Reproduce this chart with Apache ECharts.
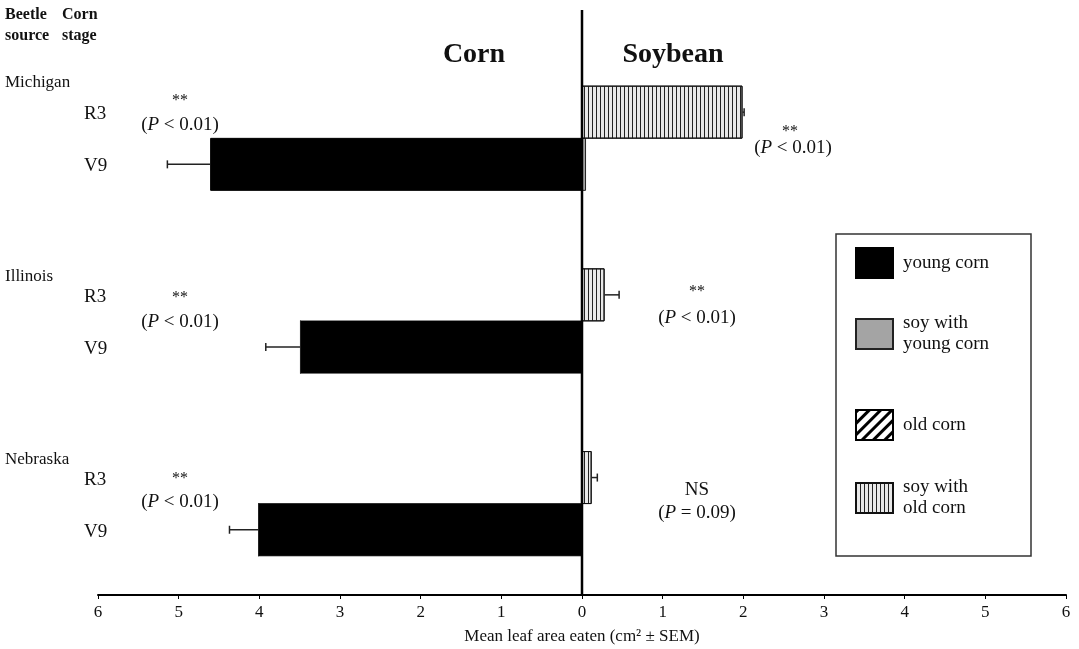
<!DOCTYPE html>
<html><head><meta charset="utf-8">
<script src="https://cdn.jsdelivr.net/npm/echarts@6/dist/echarts.min.js"></script>
<style>html,body{margin:0;padding:0;background:#fff}#c{width:1079px;height:649px}</style>
</head><body><div id="c"></div>
<script>
// ---- data ----
const sources = ['Michigan', 'Illinois', 'Nebraska'];
const stages = ['R3', 'V9'];
const youngCorn = [4.61, 3.49, 4.01];          // V9 rows, corn side
const youngCornSem = [0.53, 0.43, 0.36];
const soyWithYoungCorn = [0.05, 0, 0];          // V9 rows, soybean side
const oldCorn = [0, 0, 0];                      // R3 rows, corn side
const soyWithOldCorn = [1.99, 0.28, 0.12];      // R3 rows, soybean side
const soyWithOldCornSem = [0.02, 0.18, 0.07];
const cornSig = ['**', '**', '**'];
const cornP = ['(P < 0.01)', '(P < 0.01)', '(P < 0.01)'];
const soySig = ['**', '**', 'NS'];
const soyP = ['(P < 0.01)', '(P < 0.01)', '(P = 0.09)'];
const legendNames = ['young corn', 'soy with young corn', 'old corn', 'soy with old corn'];
const xMin = -6, xMax = 6, xStep = 1;

// ---- layout of category slots (half-row units) ----
const SLOTS = 20, GROUP = 7, OFF = {src: 0, R3: 1, V9: 3};
const cats = [];
for (let i = 0; i < SLOTS; i++) cats.push('g:' + i);
sources.forEach((s, k) => {
  cats[k * GROUP + OFF.src] = 's:' + k + ':' + s;
  stages.forEach(st => { cats[k * GROUP + OFF[st]] = 't:' + st + ':' + s; });
});
function empty() { return new Array(SLOTS).fill('-'); }
const dYoung = empty(), dSoyYoung = empty(), dOld = empty(), dSoyOld = empty();
const errData = [];
sources.forEach((s, k) => {
  const r3 = k * GROUP + OFF.R3, v9 = k * GROUP + OFF.V9;
  dYoung[v9] = -youngCorn[k];
  dSoyYoung[v9] = soyWithYoungCorn[k];
  dOld[r3] = -oldCorn[k];
  dSoyOld[r3] = soyWithOldCorn[k];
  errData.push([-youngCorn[k], v9, -youngCornSem[k]]);
  errData.push([soyWithOldCorn[k], r3, soyWithOldCornSem[k]]);
});

const FONT = 'Liberation Serif';
const INK = '#111';
const chart = echarts.init(document.getElementById('c'), null, {renderer: 'canvas'});

const legendTops = [247, 313, 409, 477];
const legends = legendNames.map((n, i) => ({
  data: [n], left: 855, top: legendTops[i], orient: 'vertical', padding: 0,
  itemWidth: 37, itemHeight: 30, itemGap: 0, icon: 'rect', selectedMode: false,
  formatter: name => name.replace('soy with ', 'soy with\n'),
  textStyle: {fontFamily: FONT, fontSize: 19, color: INK, lineHeight: 21, padding: [0, 0, 0, 5]}
}));

// annotation placement (pixel layout)
const leftSigPos = [[180, 101], [180, 298], [180, 479]];
const leftPPos = [[180, 125], [180, 322], [180, 502]];
const rightSigPos = [[790, 132], [697, 292], [697, 490]];
const rightPPos = [[793, 148], [697, 318], [697, 513]];
const noteRich = {i: {fontStyle: 'italic', fontFamily: FONT, fontSize: 19, fill: INK, color: INK}};
function txt(x, y, s, size) {
  return {type: 'text', x: x, y: y, z: 20,
    style: {text: s.replace(/P /, '{i|P} '), fontFamily: FONT, fontSize: size, fill: INK,
      align: 'center', verticalAlign: 'middle', rich: noteRich}};
}
const notes = [];
sources.forEach((s, k) => {
  notes.push(txt(leftSigPos[k][0], leftSigPos[k][1], cornSig[k], cornSig[k] === 'NS' ? 19 : 16));
  notes.push(txt(leftPPos[k][0], leftPPos[k][1], cornP[k], 19));
  notes.push(txt(rightSigPos[k][0], rightSigPos[k][1], soySig[k], soySig[k] === 'NS' ? 19 : 16));
  notes.push(txt(rightPPos[k][0], rightPPos[k][1], soyP[k], 19));
});

const srcShift = [[0, 0, 8, 0], [16, 0, 0, 0], [16, 0, 0, 0]];
const rich = {st: {fontFamily: FONT, fontSize: 19, color: INK, padding: [4, 0, 0, 79]}};
srcShift.forEach((p, k) => { rich['src' + k] = {fontFamily: FONT, fontSize: 17, color: INK, padding: p}; });

const option = {
  animation: false,
  backgroundColor: '#fff',
  grid: {left: 98, right: 13, top: 73, bottom: 54, outerBoundsMode: 'none', containLabel: false},
  legend: legends,
  xAxis: {
    type: 'value', min: xMin, max: xMax, interval: xStep,
    axisLine: {show: true, lineStyle: {color: '#000', width: 2}},
    axisTick: {show: true, length: 4, lineStyle: {color: '#000'}},
    splitLine: {show: false},
    axisLabel: {formatter: v => String(Math.abs(v)), fontFamily: FONT, fontSize: 17, color: INK, margin: 9},
    name: 'Mean leaf area eaten (cm² ± SEM)', nameLocation: 'middle', nameGap: 33,
    nameTextStyle: {fontFamily: FONT, fontSize: 17, color: INK}
  },
  yAxis: {
    type: 'category', data: cats, inverse: true,
    axisLine: {show: false}, axisTick: {show: false}, splitLine: {show: false},
    axisLabel: {
      interval: 0, align: 'left', margin: 93,
      formatter: c => {
        const p = c.split(':');
        if (p[0] === 's') return '{src' + p[1] + '|' + p[2] + '}';
        if (p[0] === 't') return '{st|' + p[1] + '}';
        return '';
      },
      rich: rich
    }
  },
  series: [
    {name: 'young corn', type: 'bar', stack: 'all', barWidth: 53, data: dYoung,
      itemStyle: {color: '#000', borderColor: '#000', borderWidth: 1}},
    {name: 'soy with young corn', type: 'bar', stack: 'all', barWidth: 53, data: dSoyYoung,
      itemStyle: {color: '#a4a4a4', borderColor: '#222', borderWidth: 1}},
    {name: 'old corn', type: 'bar', stack: 'all', barWidth: 53, data: dOld,
      itemStyle: {color: '#fff', borderColor: '#000', borderWidth: 1,
        decal: {symbol: 'rect', color: '#000', dashArrayX: [1, 0], dashArrayY: [3, 5], rotation: -Math.PI / 4, symbolSize: 1}}},
    {name: 'soy with old corn', type: 'bar', stack: 'all', barWidth: 53, data: dSoyOld,
      itemStyle: {color: '#e8e8e8', borderColor: '#111', borderWidth: 1,
        decal: {symbol: 'rect', color: '#222', dashArrayX: [1, 3], dashArrayY: [10, 0], symbolSize: 1}}},
    {name: 'err', type: 'custom', data: errData, encode: {x: 0, y: 1}, z: 5,
      renderItem: (params, api) => {
        const v = api.value(0), idx = api.value(1), s = api.value(2);
        const a = api.coord([v, idx]), b = api.coord([v + s, idx]);
        return {type: 'group', children: [
          {type: 'line', shape: {x1: a[0], y1: a[1], x2: b[0], y2: b[1]}, style: {stroke: '#222', lineWidth: 1.5}},
          {type: 'line', shape: {x1: b[0], y1: b[1] - 4, x2: b[0], y2: b[1] + 4}, style: {stroke: '#222', lineWidth: 1.5}}
        ]};
      }}
  ],
  graphic: [
    {type: 'text', x: 5, y: 4, style: {text: 'Beetle\nsource', fontFamily: FONT, fontWeight: 'bold', fontSize: 16, lineHeight: 21, fill: INK}},
    {type: 'text', x: 62, y: 4, style: {text: 'Corn\nstage', fontFamily: FONT, fontWeight: 'bold', fontSize: 16, lineHeight: 21, fill: INK}},
    {type: 'text', x: 474, y: 55, style: {text: 'Corn', fontFamily: FONT, fontWeight: 'bold', fontSize: 28, fill: INK, align: 'center', verticalAlign: 'middle'}},
    {type: 'text', x: 673, y: 55, style: {text: 'Soybean', fontFamily: FONT, fontWeight: 'bold', fontSize: 28, fill: INK, align: 'center', verticalAlign: 'middle'}},
    {type: 'rect', shape: {x: 836, y: 234, width: 195, height: 322}, style: {fill: 'none', stroke: '#333', lineWidth: 1.5}, z: -1}
  ].concat(notes)
};
chart.setOption(option);

// zero line, placed through the axis scales
const x0 = chart.convertToPixel({xAxisIndex: 0}, 0);
const gridRect = chart.getModel().getComponent('grid', 0).coordinateSystem.getRect();
const yAxisPix = gridRect.y + gridRect.height;
chart.setOption({graphic: option.graphic.concat([
  {type: 'line', shape: {x1: x0, y1: 10, x2: x0, y2: yAxisPix}, style: {stroke: '#000', lineWidth: 2.5}, z: 10}
])});
</script></body></html>
